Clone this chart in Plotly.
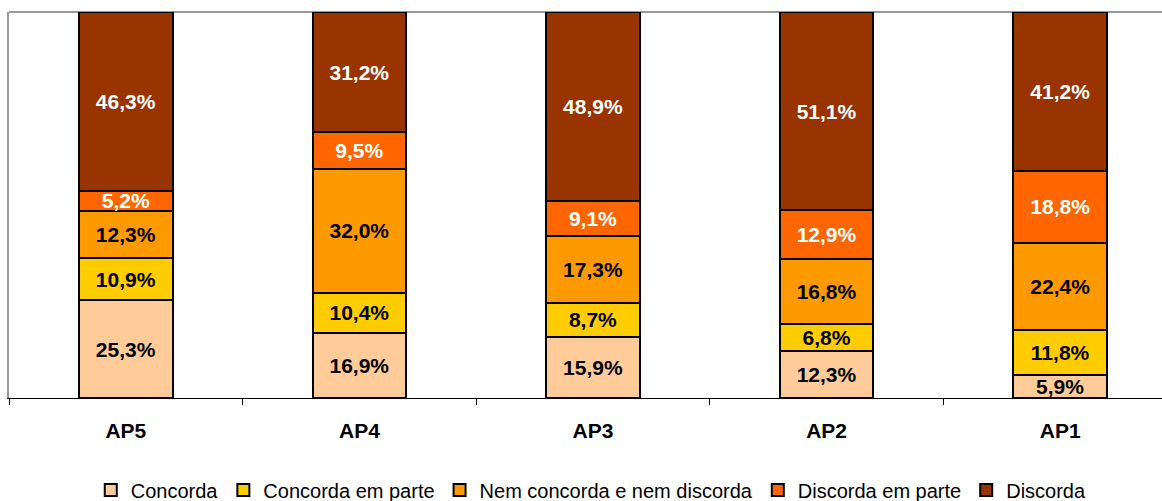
import plotly.graph_objects as go

categories = ["AP5", "AP4", "AP3", "AP2", "AP1"]
series_names = ["Concorda", "Concorda em parte", "Nem concorda e nem discorda",
                "Discorda em parte", "Discorda"]
concorda = [25.3, 16.9, 15.9, 12.3, 5.9]
concorda_parte = [10.9, 10.4, 8.7, 6.8, 11.8]
nem = [12.3, 32.0, 17.3, 16.8, 22.4]
discorda_parte = [5.2, 9.5, 9.1, 12.9, 18.8]
discorda = [46.3, 31.2, 48.9, 51.1, 41.2]

values = [concorda, concorda_parte, nem, discorda_parte, discorda]
colors = ["#FFCC99", "#FFCC00", "#FF9900", "#FF6600", "#993300"]
text_colors = ["black", "black", "black", "white", "white"]

fig = go.Figure()
for name, vals, col, tc in zip(series_names, values, colors, text_colors):
    fig.add_trace(go.Bar(
        name=name, x=categories, y=vals,
        marker=dict(color=col, line=dict(color="black", width=2)),
        text=[f"{v:.1f}".replace(".", ",") + "%" for v in vals],
        textposition="inside", insidetextanchor="middle",
        textfont=dict(family="Liberation Sans", size=21, color=tc, weight="bold"),
        constraintext="none",
        width=0.4,
        hoverinfo="skip",
    ))

W, H = 1162, 501
left, top, bottom = 9, 12, 398
cat_w = 233.6
plot_w = W - left
fig.update_layout(
    barmode="stack",
    width=W, height=H,
    margin=dict(l=left, r=0, t=top, b=H - bottom, autoexpand=False),
    paper_bgcolor="white", plot_bgcolor="white",
    font=dict(family="Liberation Sans", color="black"),
    uniformtext=dict(minsize=21, mode="show"),
    legend=dict(orientation="h", x=0.505, xanchor="center",
                yref="container", y=1 - 490 / H, yanchor="middle",
                font=dict(size=20, family="Liberation Sans"),
                traceorder="normal", itemwidth=30, tracegroupgap=0),
    xaxis=dict(
        range=[-0.5, -0.5 + plot_w / cat_w],
        showline=True, linecolor="black", linewidth=1,
        ticks="outside", tickson="boundaries", ticklen=6, tickcolor="black",
        tickfont=dict(size=21, family="Liberation Sans", weight="bold"),
        ticklabelstandoff=14,
        showgrid=False, mirror=False, automargin=False,
    ),
    yaxis=dict(
        range=[0, 100], showticklabels=False, ticks="",
        showgrid=False, zeroline=False,
        showline=True, linecolor="#999999", linewidth=2, mirror=False,
        automargin=False,
    ),
    shapes=[dict(type="line", xref="paper", yref="paper", x0=0, x1=1, y0=1, y1=1,
                 line=dict(color="#999999", width=2), layer="below")],
)

fig.write_html("out.html", config={"displayModeBar": False},
               post_script="document.body.style.margin='0';document.body.style.overflow='hidden';")
